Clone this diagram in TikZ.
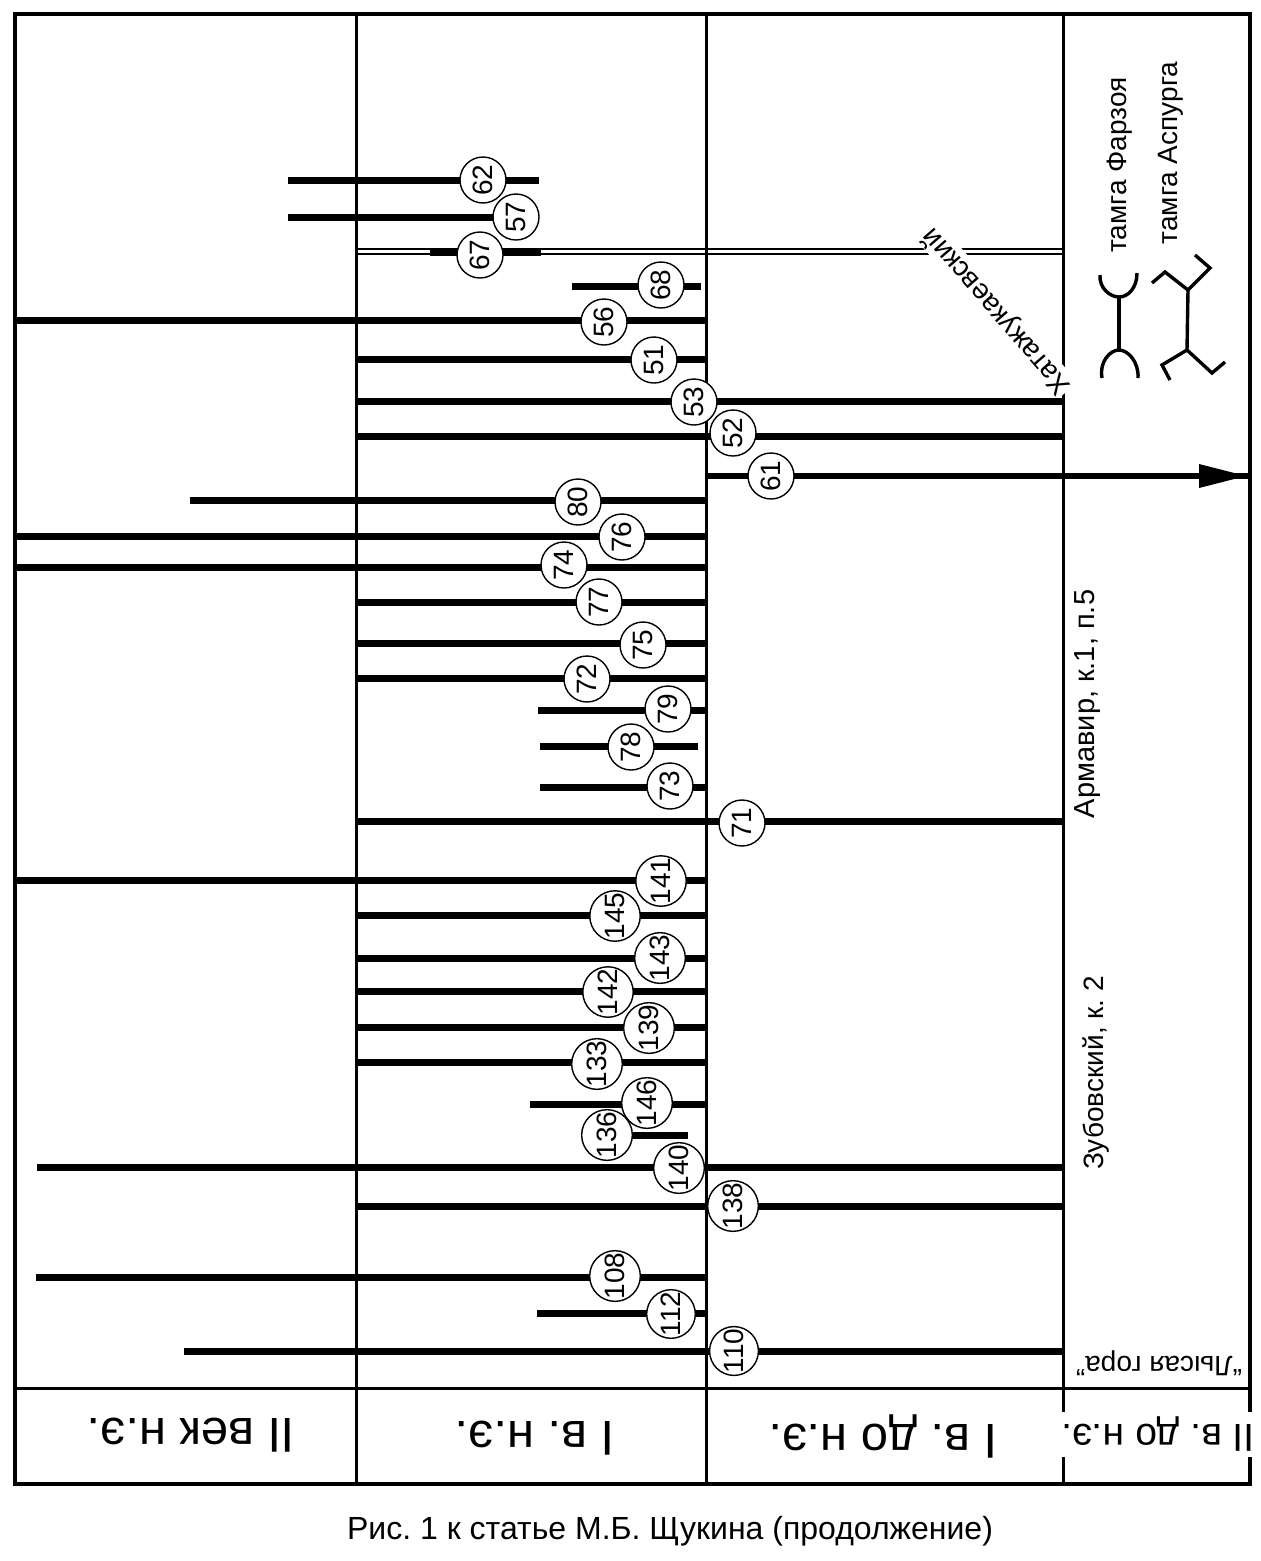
\documentclass[tikz,border=0pt]{standalone}
\usepackage{fontspec}
\setmainfont{Liberation Sans}
\AtBeginDocument{\frenchspacing}
\newcommand{\fsz}[1]{\fontsize{#1}{#1}\selectfont}
\tikzset{
  gridline/.style={line width=3pt,line cap=butt},
  framebox/.style={line width=3.5pt,line join=miter},
  barline/.style={line width=7pt,line cap=butt},
  thinpair/.style={line width=2pt},
  numcirc/.style={circle,draw=black,line width=1.4pt,fill=white,minimum size=46pt,inner sep=0pt,rotate=90,font=\fsz{28}},
  sidelabel/.style={rotate=90,inner sep=0pt},
  headlabel/.style={rotate=180,inner sep=0pt,font=\fsz{49}},
  tamga/.style={line width=3.4pt,line join=miter},
}
\begin{document}
\begin{tikzpicture}[x=1pt,y=-1pt]
\path[fill=white] (0,0) rectangle (1261,1561);
\useasboundingbox (0,0) rectangle (1261,1561);
% grid anchors
\coordinate (tl) at (15,14);
\coordinate (br) at (1250,1484);
\foreach \nm/\x in {a/356,b/706,c/1063}{
  \coordinate (\nm t) at (\x,14);
  \coordinate (\nm b) at (\x,1484);
}
\coordinate (hl) at (15,1388);
\coordinate (hr) at (1250,1388);
\draw[framebox] (tl) rectangle (br);
\foreach \nm in {a,b,c}{ \draw[gridline] (\nm t) -- (\nm b); }
\draw[gridline] (hl) -- (hr);
% double line and slanted label
\coordinate (dl1) at (357,249);\coordinate (dr1) at (1063,249);
\coordinate (dl2) at (357,254);\coordinate (dr2) at (1063,254);
\draw[thinpair] (dl1) -- (dr1);
\draw[thinpair] (dl2) -- (dr2);
\node[rotate=131,inner sep=1pt,fill=white,font=\fsz{28}] (hat) at (997,311) {Хатажукаевский};
% bars
\foreach \n/\y/\a/\b in {
 62/180/288/539, 57/217/288/495, 67/252/430/541, 68/286/572/701, 56/320/15/706,
 51/359/357/706, 53/401/357/1063, 52/436/357/1063, 80/500/190/706,
 76/536/15/706, 74/567/15/706, 77/602/357/706, 75/643/357/706, 72/678/357/706,
 79/710/538/706, 78/746/540/698, 73/787/540/706, 71/821/357/1063, 141/880/15/706,
 145/915/357/706, 143/958/357/706, 142/991/357/706, 139/1027/357/706, 133/1062/357/706,
 146/1104/530/706, 136/1135/620/688, 140/1167/37/1063, 138/1206/357/1063,
 108/1277/36/706, 112/1313/537/706, 110/1351/184/1063}{
  \coordinate (s\n) at (\a,\y);
  \coordinate (e\n) at (\b,\y);
  \draw[barline] (s\n) -- (e\n);
}
% arrow bar 61
\coordinate (s61) at (707,476);
\coordinate (e61) at (1250,476);
\draw[barline,line width=6pt] (s61) -- (e61);
\fill (1199,464) -- (1246,476) -- (1199,488) -- cycle;
% numbered circles
\foreach \n/\cx/\cy in {
 57/516/217, 62/483/180, 67/480/255, 68/661/285, 56/604/322, 51/654/360, 53/694/402,
 52/733/433, 61/771/476, 80/578/502, 76/622/537, 74/564/565, 77/599/602, 75/643/645,
 72/587/679, 79/668/709, 78/631/747, 73/670/786, 71/742/823, 141/661/881, 145/615/916,
 143/660/958, 142/608/992, 139/649/1028, 133/597/1064, 136/607/1135, 146/647/1103,
 140/679/1168, 138/733/1206, 108/615/1276, 112/671/1314, 110/734/1351}{
  \node[numcirc] (n\n) at (\cx,\cy) {\n};
}
% side labels
\node[sidelabel,font=\fsz{28}] (lfar) at (1120,165) {тамга Фарзоя};
\node[sidelabel,font=\fsz{28}] (lasp) at (1171,153) {тамга Аспурга};
\node[sidelabel,font=\fsz{29}] (larm) at (1088,704) {Армавир, к.1, п.5};
\node[sidelabel,font=\fsz{28}] (lzub) at (1096,1073) {Зубовский, к. 2};
\node[rotate=180,inner sep=0pt,font=\fsz{28}] (llys) at (1159,1363) {“Лысая гора”};
% tamga of Farzoy
\draw[tamga] (1119,297) -- (1119,350);
\draw[tamga] (1100,275) .. controls (1099,288) and (1110,297) .. (1119,297) .. controls (1128,297) and (1137,288) .. (1137,273);
\draw[tamga] (1102,378) .. controls (1099,362) and (1110,350) .. (1119,350) .. controls (1128,350) and (1139,362) .. (1138,378);
% tamga of Aspurga
\draw[tamga] (1188,290) -- (1187,350);
\draw[tamga] (1152,283) -- (1165,272) -- (1188,290) -- (1210,268) -- (1195,255);
\draw[tamga] (1170,380) -- (1162,365) -- (1187,350) -- (1212,373) -- (1225,362);
% header row
\node[headlabel] (h2ad) at (191,1435) {II век н.э.};
\node[headlabel] (h1ad) at (535,1438) {I в. н.э.};
\node[headlabel] (h1bc) at (883,1436) {I в. до н.э.};
\node[rotate=180,inner sep=0pt,fill=white,minimum height=45pt,font=\fsz{39}] (h2bc) at (1158,1434) {II в. до н.э.};
% caption
\node[inner sep=0pt,font=\fsz{32}] (cap) at (670,1531) {Рис. 1 к статье М.Б. Щукина (продолжение)};
\end{tikzpicture}
\end{document}
